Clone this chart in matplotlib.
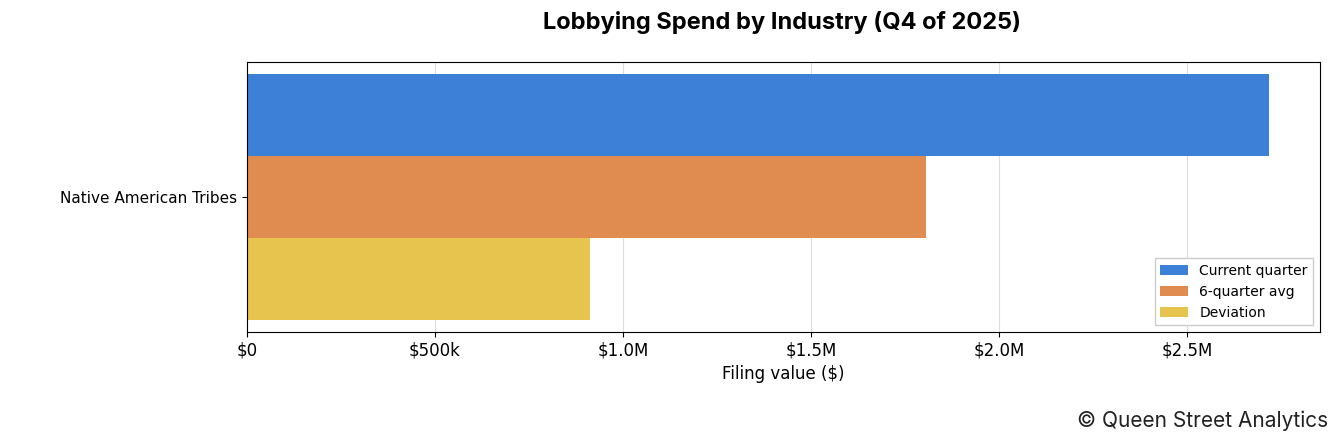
import matplotlib.pyplot as plt
from matplotlib.ticker import FuncFormatter

industries = ['Native American Tribes']
current_quarter = [2718000]
six_quarter_avg = [1806000]
deviation = [912000]

series = [
    ('Current quarter', current_quarter, '#3d80d7'),
    ('6-quarter avg', six_quarter_avg, '#e08b50'),
    ('Deviation', deviation, '#e7c44d'),
]


def money(v, _pos):
    if v == 0:
        return '$0'
    if v >= 1_000_000:
        return f'${v / 1_000_000:.1f}M'
    return f'${v / 1000:.0f}k'


fig = plt.figure(figsize=(13.44, 4.44), dpi=100)
ax = fig.add_axes([247 / 1344, 1 - 332 / 444, 1073 / 1344, 270 / 444])

h = 1 / 3
for i, (label, vals, color) in enumerate(series):
    ys = [k - (i - 1) * h for k in range(len(industries))]
    ax.barh(ys, vals, height=h, color=color, label=label, zorder=2)

ax.set_yticks(range(len(industries)))
ax.set_yticklabels(industries, fontsize=11)
ax.set_ylim(-0.551, 0.551)
ax.set_xlim(0, 2_854_000)
ax.set_xticks([0, 500_000, 1_000_000, 1_500_000, 2_000_000, 2_500_000])
ax.xaxis.set_major_formatter(FuncFormatter(money))
ax.tick_params(axis='x', labelsize=12)
ax.grid(True, axis='x', color='#dddddd', zorder=0)
ax.set_xlabel('Filing value ($)', fontsize=12)

ax.legend(loc='lower right', fontsize=10, framealpha=1, edgecolor='#cccccc',
          fancybox=False)

fig.suptitle('Lobbying Spend by Industry (Q4 of 2025)', family='Inter',
             fontweight='bold', fontsize=17, x=0.582, y=0.975)
fig.text(0.988, 0.03, '\u00a9 Queen Street Analytics', family='Inter',
         fontsize=15, ha='right', va='bottom', color='#222222')

fig.savefig('out.png', dpi=100)
